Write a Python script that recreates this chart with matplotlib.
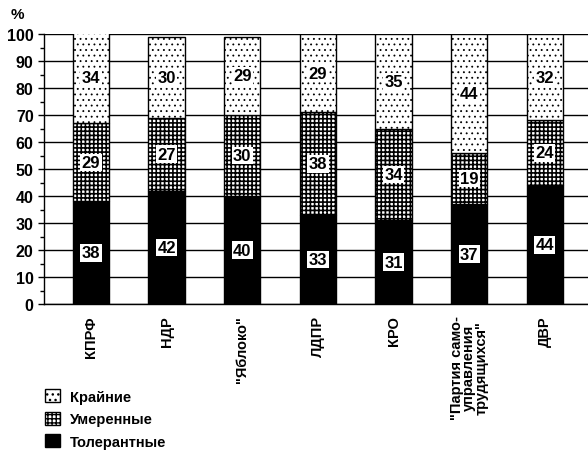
import matplotlib
matplotlib.use("Agg")
import matplotlib.pyplot as plt
import numpy as np
from matplotlib.patches import Patch

plt.rcParams['font.family'] = ['Liberation Sans Narrow', 'Liberation Sans', 'DejaVu Sans']

categories = ["КПРФ", "НДР", "\"Яблоко\"", "ЛДПР", "КРО",
              "\"Партия само-\nуправления\nтрудящихся\"", "ДВР"]
tolerant = [38, 42, 40, 33, 31, 37, 44]
moderate = [29, 27, 30, 38, 34, 19, 24]
extreme = [34, 30, 29, 29, 35, 44, 32]
series_names = ["Крайние", "Умеренные", "Толерантные"]
yticks = list(range(0, 101, 10))

fig = plt.figure(figsize=(5.88, 4.56), dpi=100)
ax = fig.add_axes([0.075, 0.331, 0.925, 0.592])

x = np.arange(len(categories))
w = 0.48
tol = np.array(tolerant)
mod = np.array(moderate)
ext = np.array(extreme)

ax.bar(x, tol, w, color='black', edgecolor='black', zorder=3)
with plt.rc_context({'hatch.linewidth': 1.2}):
    ax.bar(x, mod, w, bottom=tol, color='white', edgecolor='black', hatch='++++', lw=1, zorder=3)
    mod_patch = Patch(facecolor='white', edgecolor='black', hatch='++++')
with plt.rc_context({'hatch.linewidth': 0.6}):
    ax.bar(x, ext, w, bottom=tol + mod, color='white', edgecolor='black', hatch='...', lw=1, zorder=3)
    ext_patch = Patch(facecolor='white', edgecolor='black', hatch='...')

box = dict(facecolor='white', edgecolor='none', pad=1.0)
for i in range(len(x)):
    for bottom, val in [(0, tol[i]), (tol[i], mod[i]), (tol[i] + mod[i], ext[i])]:
        ax.text(x[i], bottom + val / 2, str(val), ha='center', va='center',
                fontsize=12, fontweight='bold', bbox=box, zorder=5)

ax.set_ylim(0, 100)
ax.set_xlim(-0.62, 6.57)
ax.set_yticks(yticks)
ax.set_yticklabels([str(v) for v in yticks], fontsize=11.5, fontweight='bold')
ax.set_yticks(np.arange(5, 100, 10), minor=True)
ax.tick_params(axis='y', which='major', length=4, width=1, direction='out')
ax.tick_params(axis='y', which='minor', length=3, width=1, direction='out')
ax.set_xticks(x)
ax.set_xticklabels(categories, rotation=90, fontsize=10.5, fontweight='bold',
                   va='top', ha='center', linespacing=0.85)
ax.tick_params(axis='x', length=0, pad=8)
ax.grid(axis='y', color='black', lw=1, zorder=0)
for s in ['top', 'right']:
    ax.spines[s].set_visible(False)
ax.spines['left'].set_linewidth(1)
ax.spines['bottom'].set_linewidth(1)

fig.text(0.018, 0.968, "%", fontsize=11, fontweight='bold', ha='left', va='center')

handles = [ext_patch, mod_patch, Patch(facecolor='black', edgecolor='black')]
fig.legend(handles, series_names, loc='lower left', bbox_to_anchor=(0.055, -0.015),
           frameon=False, handlelength=1.0, handleheight=1.0,
           handletextpad=0.7, labelspacing=0.55, prop={'size': 10.5, 'weight': 'bold'})

fig.savefig("out.png", dpi=100)
